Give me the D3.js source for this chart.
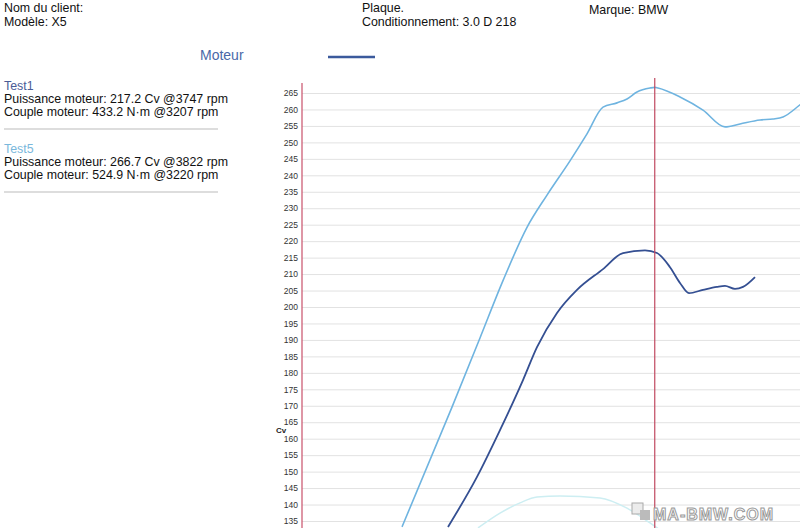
<!DOCTYPE html>
<html>
<head>
<meta charset="utf-8">
<script src="https://cdn.jsdelivr.net/npm/d3@7"></script>
<style>
  body { margin: 0; background: #fff; }
  svg { display: block; font-family: "Liberation Sans", Arial, sans-serif; }
</style>
</head>
<body>
<script>
// tests shown in the left legend
var testNames = ["Test1", "Test5"];
var powerText = ["Puissance moteur: 217.2 Cv @3747 rpm", "Puissance moteur: 266.7 Cv @3822 rpm"];
var torqueText = ["Couple moteur: 433.2 N\u00b7m @3207 rpm", "Couple moteur: 524.9 N\u00b7m @3220 rpm"];

// Test1 power (dark blue)
var test1Rpm = [2168, 2400, 2584, 2768, 2880, 3040, 3200, 3408, 3568, 3744, 3840, 3944, 4024, 4096, 4208, 4320, 4384, 4464, 4528, 4624];
var test1Cv  = [133.2, 148.4, 162.6, 177.8, 187.8, 198.2, 205.2, 211.5, 216.4, 217.2, 216.4, 212.1, 207.3, 204.2, 205.2, 206.1, 206.4, 205.5, 206.1, 209.1];

// Test5 power (light blue)
var test5Rpm = [1800, 2200, 2424, 2608, 2800, 2960, 3144, 3280, 3408, 3520, 3600, 3680, 3784, 3822, 3848, 4024, 4208, 4384, 4504, 4664, 4768, 4848, 4984, 5040];
var test5Cv  = [133.2, 169.6, 190.6, 208.0, 224.2, 234.0, 244.4, 252.6, 260.7, 262.0, 263.2, 265.3, 266.5, 266.7, 266.5, 263.8, 259.8, 254.7, 255.6, 256.8, 257.1, 257.7, 261.4, 263.0];

// faint third curve near the bottom
var faintRpm = [2408, 2584, 2744, 2880, 3064, 3384, 3600, 3784, 3864];
var faintCv  = [132.9, 137.4, 140.5, 142.3, 142.6, 142.0, 138.9, 134.4, 132.3];

var yTicks = d3.range(135, 266, 5);
var peakRpm = 3822;

var W = 800, H = 528;
var svg = d3.select("body").append("svg")
    .attr("width", W)
    .attr("height", H);

// scales
var x = d3.scaleLinear().domain([1000, 5000]).range([302, 802]);
var y = d3.scaleLinear().domain([135, 265]).range([521, 93]);

// header
var header = svg.append("g").attr("font-size", "12.4px").attr("fill", "#111");
header.append("text").attr("x", 4).attr("y", 12).text("Nom du client:");
header.append("text").attr("x", 4).attr("y", 26).text("Mod\u00e8le: X5");
header.append("text").attr("x", 362).attr("y", 12).text("Plaque.");
header.append("text").attr("x", 362).attr("y", 26).text("Conditionnement: 3.0 D 218");
header.append("text").attr("x", 589).attr("y", 14).text("Marque: BMW");

svg.append("text")
    .attr("x", 200).attr("y", 60)
    .attr("font-size", "14px")
    .attr("fill", "#4a68a8")
    .text("Moteur");
svg.append("line")
    .attr("x1", 328).attr("x2", 375)
    .attr("y1", 57).attr("y2", 57)
    .attr("stroke", "#3b5a9c")
    .attr("stroke-width", 2.5);

// legend on the left
var legColors = ["#4a5c96", "#7ab8dc"];
testNames.forEach(function(name, i) {
  var g = svg.append("g").attr("transform", "translate(4," + (90 + i * 63) + ")").attr("font-size", "12.4px");
  g.append("text").attr("y", 0).attr("fill", legColors[i]).text(name);
  g.append("text").attr("y", 13).attr("fill", "#111").text(powerText[i]);
  g.append("text").attr("y", 26).attr("fill", "#111").text(torqueText[i]);
  g.append("line")
    .attr("x1", 0).attr("x2", 214)
    .attr("y1", 39).attr("y2", 39)
    .attr("stroke", "#bbb").attr("stroke-width", 1);
});

// grid lines
svg.append("g")
    .attr("class", "grid")
    .attr("transform", "translate(302,0)")
    .call(d3.axisRight(y).tickValues(yTicks).tickSize(500).tickFormat(""))
    .call(function(g) {
      g.select(".domain").remove();
      g.selectAll("line").attr("stroke", "#e2e2e2");
    });

// y axis
svg.append("g")
    .attr("class", "y axis")
    .attr("transform", "translate(302,0)")
    .call(d3.axisLeft(y).tickValues(yTicks).tickSize(0).tickPadding(4))
    .call(function(g) {
      g.select(".domain").remove();
      g.selectAll("text").attr("font-size", "8.5px").attr("fill", "#333");
    });
svg.append("line")
    .attr("x1", 302).attr("x2", 302)
    .attr("y1", 83).attr("y2", H)
    .attr("stroke", "#c8506a").attr("stroke-width", 1.2);

svg.append("text")
    .attr("x", 276).attr("y", 433)
    .attr("font-size", "8px")
    .attr("font-weight", "bold")
    .attr("fill", "#222")
    .text("Cv");

// curves
var line = d3.line()
    .x(function(d) { return x(d[0]); })
    .y(function(d) { return y(d[1]); })
    .curve(d3.curveMonotoneX);

svg.append("path")
    .datum(d3.zip(faintRpm, faintCv))
    .attr("fill", "none")
    .attr("stroke", "#cdeef2")
    .attr("stroke-width", 1.5)
    .attr("d", line);

svg.append("path")
    .datum(d3.zip(test5Rpm, test5Cv))
    .attr("fill", "none")
    .attr("stroke", "#6fb4e0")
    .attr("stroke-width", 1.6)
    .attr("d", line);

svg.append("path")
    .datum(d3.zip(test1Rpm, test1Cv))
    .attr("fill", "none")
    .attr("stroke", "#344f92")
    .attr("stroke-width", 1.8)
    .attr("d", line);

// peak marker
svg.append("line")
    .attr("x1", x(peakRpm)).attr("x2", x(peakRpm))
    .attr("y1", 78).attr("y2", H)
    .attr("stroke", "#c04860").attr("stroke-width", 1.2);

// watermark
svg.append("rect")
    .attr("x", 632).attr("y", 503).attr("width", 11).attr("height", 11)
    .attr("fill", "#ececec").attr("stroke", "#aaa");
svg.append("rect")
    .attr("x", 640).attr("y", 510).attr("width", 10).attr("height", 10)
    .attr("fill", "#bbb");
svg.append("text")
    .attr("x", 653).attr("y", 520)
    .attr("font-size", "16px")
    .attr("font-weight", "bold")
    .attr("fill", "#fff")
    .attr("stroke", "#9a9a9a")
    .attr("stroke-width", 1)
    .attr("letter-spacing", "1px")
    .text("MA-BMW.COM");
</script>
</body>
</html>
